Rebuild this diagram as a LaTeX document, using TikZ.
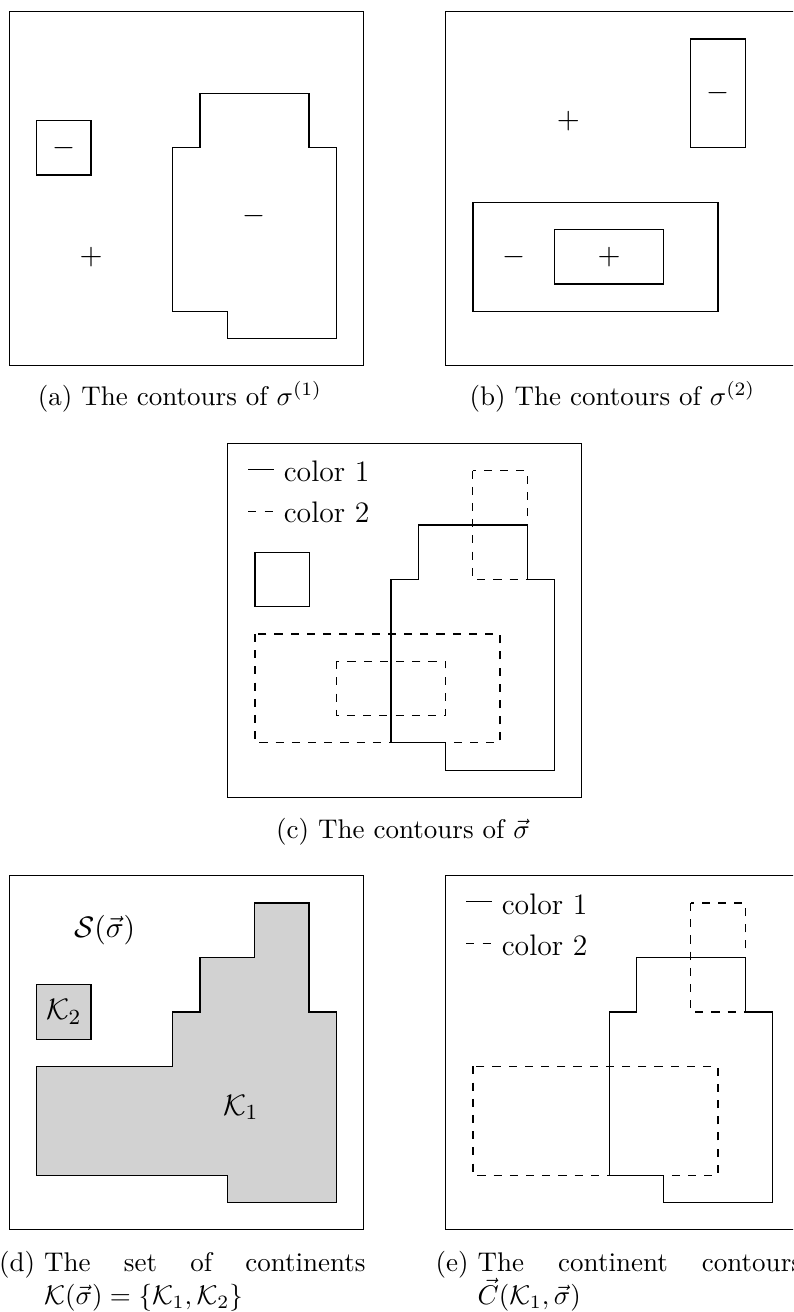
\documentclass[tikz,border=0pt]{standalone}
\usepackage{amsmath,amssymb}
\usepackage{tikz}
\usetikzlibrary{positioning}
\definecolor{contFill}{RGB}{210,210,210}

% contours shared by several panels (grid units, y pointing down)
\newcommand{\polyBig}{(7,3) -- (11,3) -- (11,5) -- (12,5) -- (12,12) -- (8,12) -- (8,11) -- (6,11) -- (6,5) -- (7,5) -- cycle}
\newcommand{\polyKone}{(9,1) -- (11,1) -- (11,5) -- (12,5) -- (12,12) -- (8,12) -- (8,11) -- (1,11) -- (1,7) -- (6,7) -- (6,5) -- (7,5) -- (7,3) -- (9,3) -- cycle}
\newsavebox{\capLab}
\newcommand{\hangcap}[2]{\sbox{\capLab}{#1 }\usebox{\capLab}\parbox[t]{\dimexpr135.7pt-\wd\capLab\relax}{\sloppy #2}}

\begin{document}
\begin{tikzpicture}[x=10.085pt, y=-10.085pt,
  frame/.style={draw, line width=0.45pt},
  col1/.style={draw, line width=0.45pt},
  col2/.style={draw, dashed, line width=0.45pt},
  sgn/.style={font=\fontsize{11}{13}\selectfont, inner sep=0pt},
  lgd/.style={font=\fontsize{11}{13}\selectfont, inner sep=0pt, anchor=base west},
  subcap/.style={inner sep=0pt, anchor=base},
  subcapl/.style={inner sep=0pt, anchor=base west},
]
\useasboundingbox (0,0) rectangle (29.122,48.18);
\clip (0,0) rectangle (29.122,48.18);

% (a) contours of sigma^(1)
\begin{scope}[shift={(0.345,0.43)}]
  \draw[frame] (0,0) rectangle (13,13);
  \draw[col1] (1,4) rectangle (3,6);
  \draw[col1] \polyBig;
  \node[sgn] (aMinusS) at (2,5) {$-$};
  \node[sgn] (aMinusB) at (9,7.5) {$-$};
  \node[sgn] (aPlus) at (3,9) {$+$};
\end{scope}
\node[subcap] (capA) at (6.61,14.895) {(a) The contours of $\sigma^{(1)}$};

% (b) contours of sigma^(2)
\begin{scope}[shift={(16.368,0.43)}]
  \draw[frame] (0,0) rectangle (13,13);
  \draw[col1] (9,1) rectangle (11,5);
  \draw[col1] (1,7) rectangle (10,11);
  \draw[col1] (4,8) rectangle (8,10);
  \node[sgn] (bPlusO) at (4.5,4) {$+$};
  \node[sgn] (bMinusT) at (10,3) {$-$};
  \node[sgn] (bMinusW) at (2.5,9) {$-$};
  \node[sgn] (bPlusI) at (6,9) {$+$};
\end{scope}
\node[subcap] (capB) at (22.49,14.895) {(b) The contours of $\sigma^{(2)}$};

% (c) both colours together
\begin{scope}[shift={(8.362,16.28)}]
  \draw[frame] (0,0) rectangle (13,13);
  \draw[col1] (0.757,0.955) -- (1.71,0.955);
  \node[lgd] (cLeg1) at (2.04,1.41) {color 1};
  \draw[col2] (0.757,2.49) -- (1.71,2.49);
  \node[lgd] (cLeg2) at (2.04,2.92) {color 2};
  \draw[col1] (1,4) rectangle (3,6);
  \draw[col1] \polyBig;
  \draw[col2] (9,1) rectangle (11,5);
  \draw[col2] (1,7) rectangle (10,11);
  \draw[col2] (4,8) rectangle (8,10);
\end{scope}
\node[subcap] (capC) at (14.80,30.786) {(c) The contours of $\vec{\sigma}$};

% (d) continents
\begin{scope}[shift={(0.345,32.16)}]
  \draw[frame] (0,0) rectangle (13,13);
  \draw[col1, fill=contFill] \polyKone;
  \draw[col1, fill=contFill] (1,4) rectangle (3,6);
  \node[sgn] (dSea) at (3.5,2) {$\mathcal{S}(\vec{\sigma})$};
  \node[sgn] (dKone) at (8.5,8.5) {$\mathcal{K}_1$};
  \node[sgn] (dKtwo) at (2,5) {$\mathcal{K}_2$};
\end{scope}
\node[subcapl] (capD) at (-0.051,46.70)
  {\hangcap{(d)}{The set of continents $\mathcal{K}(\vec{\sigma})=\{\mathcal{K}_1,\mathcal{K}_2\}$}};

% (e) contours of the continent K_1
\begin{scope}[shift={(16.368,32.16)}]
  \draw[frame] (0,0) rectangle (13,13);
  \draw[col1] (0.757,0.955) -- (1.71,0.955);
  \node[lgd] (eLeg1) at (2.04,1.41) {color 1};
  \draw[col2] (0.757,2.49) -- (1.71,2.49);
  \node[lgd] (eLeg2) at (2.04,2.92) {color 2};
  \draw[col1] \polyBig;
  \draw[col2] (9,1) rectangle (11,5);
  \draw[col2] (1,7) rectangle (10,11);
\end{scope}
\node[subcapl] (capE) at (15.975,46.70)
  {\hangcap{(e)}{The continent contours $\vec{C}(\mathcal{K}_1,\vec{\sigma})$}};

\end{tikzpicture}
\end{document}
